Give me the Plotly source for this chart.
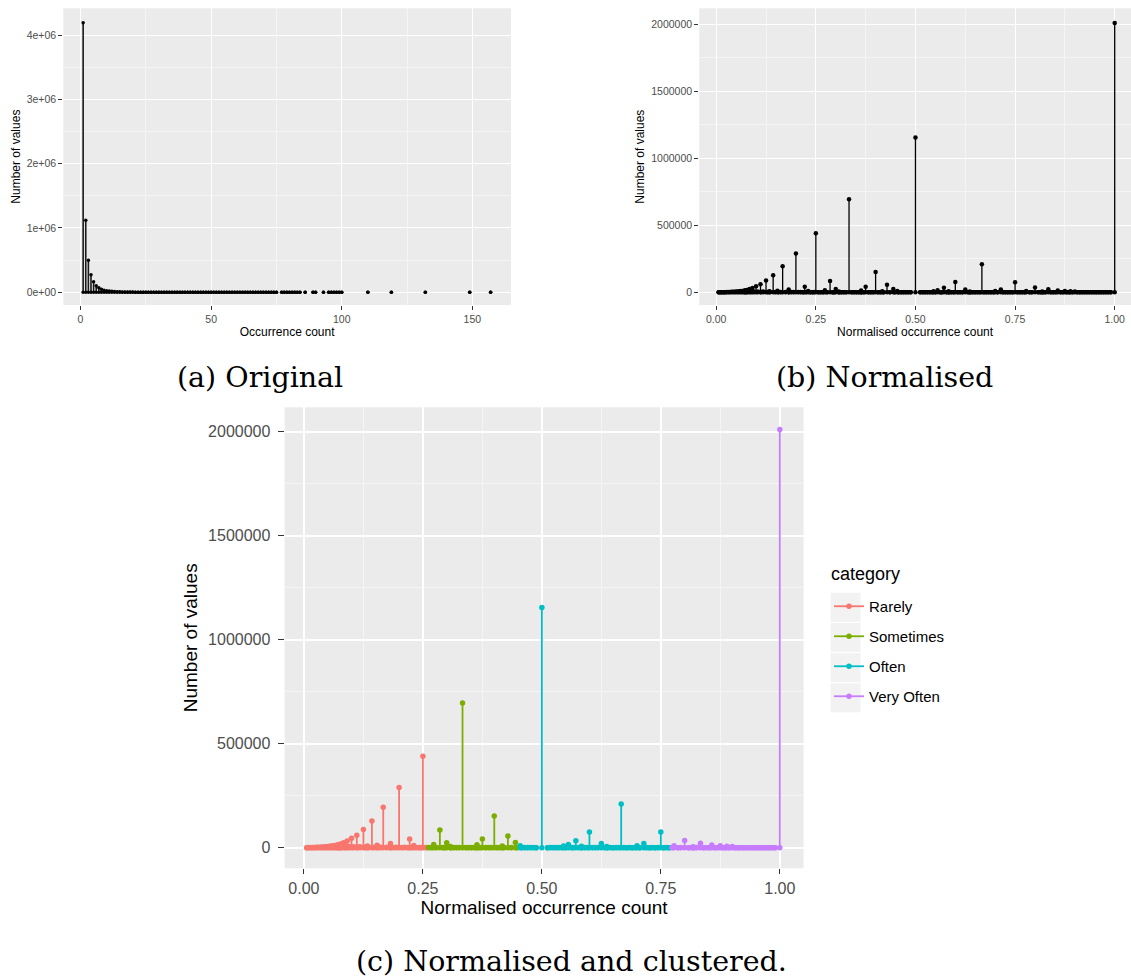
import plotly.graph_objects as go

W, H = 1131, 977

# ---------------- Panel (a): original occurrence counts ----------------
occ_count = list(range(1, 76)) + [77, 78, 79, 80, 81, 82, 83, 84, 86, 89, 90, 93,
                                  95, 96, 97, 98, 99, 100, 110, 119, 132, 149, 157]
occ_values = [4190000, 1120000, 500000, 275000, 165000, 102000, 70000, 48000, 34000, 25000,
              19000, 15000, 12000, 9500, 7800, 6500, 5400, 4600, 3900, 3400,
              2900, 2500, 2200, 1900, 1700, 1500, 1350, 1200, 1080, 970,
              880, 800, 730, 660, 600, 550, 500, 460, 420, 390,
              360, 330, 305, 280, 260, 240, 225, 210, 195, 180,
              170, 158, 148, 138, 130, 121, 113, 106, 99, 93,
              87, 82, 77, 72, 68, 64, 60, 56, 53, 50,
              47, 44, 41, 39, 37,
              33, 31, 29, 27, 25, 23, 21, 20,
              17, 14, 13, 11,
              9, 8, 8, 7, 6, 6,
              3, 2, 1, 1, 1]

# ---------------- Panels (b)/(c): normalised occurrence counts ----------------
spike_x = [0.0714, 0.0769, 0.0833, 0.0909, 0.1000, 0.1111, 0.1250, 0.1333, 0.1429, 0.1538,
           0.1667, 0.1818, 0.2000, 0.2222, 0.2308, 0.2500, 0.2727, 0.2857, 0.3000, 0.3077,
           0.3333, 0.3636, 0.3750, 0.4000, 0.4167, 0.4286, 0.4444, 0.4545, 0.5000, 0.5455,
           0.5556, 0.5714, 0.5833, 0.6000, 0.6250, 0.6364, 0.6667, 0.7000, 0.7143, 0.7500,
           0.7778, 0.8000, 0.8182, 0.8333, 0.8571, 0.8750, 0.8889, 0.9000, 1.0000]
spike_y = [14000, 18000, 24000, 32000, 45000, 60000, 88000, 8000, 128000, 12000,
           195000, 20000, 290000, 42000, 10000, 440000, 15000, 85000, 24000, 6000,
           695000, 14000, 42000, 152000, 8000, 56000, 25000, 9000, 1155000, 8000,
           15000, 33000, 7000, 76000, 20000, 6000, 210000, 9000, 20000, 75000,
           9000, 35000, 5000, 22000, 13000, 9000, 7000, 6000, 2010000]

base_x = [0.006, 0.010, 0.014, 0.018, 0.022, 0.026, 0.030, 0.034, 0.038, 0.042,
          0.046, 0.050, 0.054, 0.058, 0.062, 0.066, 0.070, 0.074, 0.078, 0.087,
          0.095, 0.104, 0.112, 0.118, 0.129, 0.135, 0.148, 0.156, 0.162, 0.174,
          0.182, 0.188, 0.194, 0.206, 0.212, 0.218, 0.226, 0.236, 0.242, 0.246,
          0.256, 0.262, 0.268, 0.278, 0.292, 0.296, 0.308, 0.314, 0.320, 0.326,
          0.340, 0.346, 0.352, 0.358, 0.364, 0.370, 0.382, 0.388, 0.394, 0.406,
          0.412, 0.420, 0.436, 0.448, 0.458, 0.464, 0.470, 0.476, 0.482, 0.488,
          0.512, 0.518, 0.524, 0.530, 0.536, 0.542, 0.550, 0.562, 0.566, 0.578,
          0.584, 0.590, 0.596, 0.606, 0.612, 0.618, 0.632, 0.638, 0.644, 0.650,
          0.656, 0.662, 0.672, 0.678, 0.684, 0.690, 0.696, 0.706, 0.720, 0.726,
          0.732, 0.738, 0.744, 0.756, 0.762, 0.768, 0.774, 0.786, 0.792, 0.808,
          0.814, 0.820, 0.826, 0.840, 0.846, 0.852, 0.864, 0.870, 0.880, 0.886,
          0.894, 0.906, 0.912, 0.918, 0.924, 0.930, 0.936, 0.942, 0.948, 0.954,
          0.960, 0.966, 0.972, 0.978, 0.984, 0.990]
base_y = [200, 400, 600, 900, 1200, 1600, 2000, 2600, 3200, 3900,
          4700, 5600, 6600, 7700, 9000, 10500, 12000, 13800, 16000, 9000,
          6000, 5000, 4000, 5000, 3000, 3500, 2500, 3000, 2000, 2500,
          2000, 1500, 2000, 1500, 1800, 1200, 1500, 1000, 1200, 1500,
          1000, 1200, 900, 1100, 900, 1000, 800, 900, 700, 800,
          900, 700, 800, 600, 700, 800, 600, 700, 500, 600,
          700, 500, 600, 500, 400, 500, 400, 500, 400, 300,
          300, 400, 500, 400, 500, 600, 500, 400, 600, 500,
          400, 500, 600, 500, 400, 500, 400, 500, 400, 300,
          400, 500, 400, 300, 400, 300, 400, 300, 400, 300,
          400, 300, 400, 300, 400, 300, 400, 300, 400, 300,
          400, 300, 400, 300, 400, 300, 300, 400, 300, 300,
          300, 300, 200, 300, 200, 300, 200, 300, 200, 300,
          200, 300, 200, 300, 200, 200]

categories = ["Rarely", "Sometimes", "Often", "Very Often"]
category_upper = [0.26, 0.45, 0.77, 1.01]
category_colors = ["#F8766D", "#7CAE00", "#00BFC4", "#C77CFF"]
legend_title = "category"

a_xticks = [0, 50, 100, 150]
a_xminor = [25, 75, 125]
a_yticks = [0, 1000000, 2000000, 3000000, 4000000]
a_yticktext = ["0e+00", "1e+06", "2e+06", "3e+06", "4e+06"]
a_yminor = [500000, 1500000, 2500000, 3500000]
n_xticks = [0, 0.25, 0.5, 0.75, 1.0]
n_xticktext = ["0.00", "0.25", "0.50", "0.75", "1.00"]
n_xminor = [0.125, 0.375, 0.625, 0.875]
n_yticks = [0, 500000, 1000000, 1500000, 2000000]
n_yticktext = ["0", "500000", "1000000", "1500000", "2000000"]
n_yminor = [250000, 750000, 1250000, 1750000]

captions = ["(a) Original", "(b) Normalised", "(c) Normalised and clustered."]


def stems(xs, ys):
    sx, sy = [], []
    for x, y in zip(xs, ys):
        sx += [x, x, None]
        sy += [0, y, None]
    return sx, sy


pairs = sorted(zip(spike_x + base_x, spike_y + base_y))
norm_x = [p[0] for p in pairs]
norm_y = [p[1] for p in pairs]

fig = go.Figure()

ax, ay = stems(occ_count, occ_values)
fig.add_trace(go.Scatter(x=ax, y=ay, mode="lines+markers", xaxis="x", yaxis="y",
                         line=dict(color="#1a1a1a", width=1.6),
                         marker=dict(color="black", size=3.5), showlegend=False,
                         hoverinfo="skip"))

bx, by = stems(norm_x, norm_y)
fig.add_trace(go.Scatter(x=bx, y=by, mode="lines+markers", xaxis="x2", yaxis="y2",
                         line=dict(color="black", width=1.3),
                         marker=dict(color="black", size=4.5), showlegend=False,
                         hoverinfo="skip"))

lower = 0.0
for name, upper, col in zip(categories, category_upper, category_colors):
    cx = [x for x in norm_x if lower <= x < upper]
    cy = [y for x, y in zip(norm_x, norm_y) if lower <= x < upper]
    sx, sy = stems(cx, cy)
    fig.add_trace(go.Scatter(x=sx, y=sy, mode="lines+markers", xaxis="x3", yaxis="y3",
                             name=name, legendgroup=name,
                             line=dict(color=col, width=1.8),
                             marker=dict(color=col, size=5.5), hoverinfo="skip"))
    lower = upper

FONT = "Liberation Sans"


def px_x(v):
    return v / W


def px_y(v):
    return 1 - v / H


def axis_style(tickvals, ticktext, minor, rng, dom, anchor, tsize, ttitle, title,
               ticklen, standoff, gw, lstand):
    return dict(domain=dom, anchor=anchor, range=rng, tickvals=tickvals, ticktext=ticktext,
                showgrid=True, gridcolor="white", gridwidth=gw, zeroline=False, showline=False,
                ticks="outside", ticklen=ticklen, tickwidth=1, tickcolor="#333333",
                ticklabelstandoff=lstand,
                tickfont=dict(family=FONT, size=tsize, color="#4D4D4D"),
                minor=dict(tickvals=minor, showgrid=True, gridcolor="#F5F5F5", gridwidth=gw * 0.5),
                title=dict(text=title, font=dict(family=FONT, size=ttitle, color="black"),
                           standoff=standoff))


fig.update_layout(
    width=W, height=H, margin=dict(l=0, r=0, t=0, b=0),
    paper_bgcolor="white", plot_bgcolor="#EBEBEB",
    xaxis=axis_style(a_xticks, [str(v) for v in a_xticks], a_xminor, [-6.6, 164.8],
                     [px_x(63.3), px_x(511)], "y", 10.5, 12, "Occurrence count", 4, 3, 1, 0),
    yaxis=axis_style(a_yticks, a_yticktext, a_yminor, [-197000, 4415000],
                     [px_y(305), px_y(8.3)], "x", 10.5, 12, "Number of values", 4, 3, 1, 0),
    xaxis2=axis_style(n_xticks, n_xticktext, n_xminor, [-0.0427, 1.0409],
                      [px_x(699.2), 1.0], "y2", 10.5, 12, "Normalised occurrence count", 4, 3, 1, 0),
    yaxis2=axis_style(n_yticks, n_yticktext, n_yminor, [-94800, 2119000],
                      [px_y(305), px_y(8.3)], "x2", 10.5, 12, "Number of values", 4, 3, 1, 0),
    xaxis3=axis_style(n_xticks, n_xticktext, n_xminor, [-0.0406, 1.05],
                      [px_x(284.6), px_x(803.6)], "y3", 16, 19, "Normalised occurrence count",
                      5, 5, 1.5, 0),
    yaxis3=axis_style(n_yticks, n_yticktext, n_yminor, [-99000, 2117000],
                      [px_y(868.3), px_y(407.3)], "x3", 16, 19, "Number of values", 6, 5, 1.5, 4),
    legend=dict(x=px_x(829), y=px_y(590), xanchor="left", yanchor="top",
                bgcolor="rgba(0,0,0,0)", itemwidth=30, tracegroupgap=7.5,
                font=dict(family=FONT, size=15, color="black")),
    showlegend=True,
)

fig.add_annotation(text=legend_title, x=px_x(829), y=px_y(574), xref="paper", yref="paper",
                   showarrow=False, xanchor="left", yanchor="middle",
                   font=dict(family=FONT, size=18, color="black"))

# grey legend key backgrounds
key_tops = [592.7, 622.9, 653.1, 683.3]
for t in key_tops:
    fig.add_shape(type="rect", xref="paper", yref="paper",
                  x0=px_x(830.7), x1=px_x(860.5), y0=px_y(t + 29), y1=px_y(t),
                  fillcolor="#F2F2F2", line=dict(width=0), layer="below")

cap_pos = [(259.7, 377), (885, 377), (571, 961)]
for text, (cx, cy) in zip(captions, cap_pos):
    fig.add_annotation(text=text, x=px_x(cx), y=px_y(cy), xref="paper", yref="paper",
                       showarrow=False, xanchor="center", yanchor="middle",
                       font=dict(family="DejaVu Serif", size=28.5, color="black"))

fig.write_html("out.html")
